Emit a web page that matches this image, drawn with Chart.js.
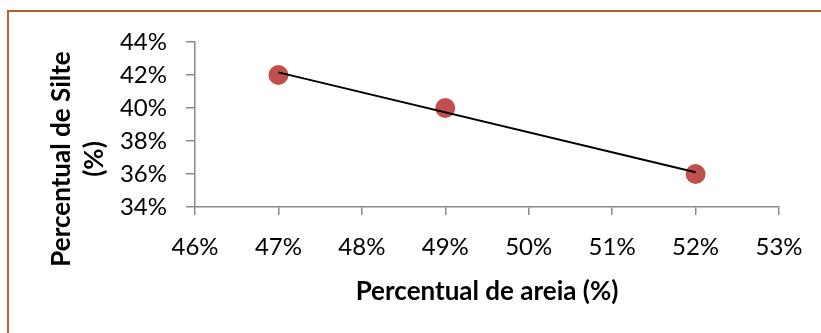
<!DOCTYPE html>
<html>
<head>
<meta charset="utf-8">
<script src="https://cdn.jsdelivr.net/npm/chart.js@4"></script>
<style>
  html, body { margin: 0; padding: 0; background: #ffffff; overflow: hidden; }
  #wrap { position: relative; width: 821px; height: 333px; }
  #frame {
    position: absolute; left: 7px; top: 10px; right: -10px; bottom: -10px;
    border-left: 2px solid #B3622F; border-top: 2px solid #B3622F;
    pointer-events: none;
  }
  canvas { position: absolute; left: 0; top: 0; }
</style>
</head>
<body>
<div id="wrap">
  <div id="frame"></div>
  <canvas id="c" width="821" height="333"></canvas>
</div>
<script>
// Sand vs. silt percentages of the samples
const areia = [47, 49, 52];
const silte = [42, 40, 36];

// Axis ranges and tick steps (percent)
const xTicks = { min: 46, max: 53, step: 1 };
const yTicks = { min: 34, max: 44, step: 2 };

const xTitle = 'Percentual de areia (%)';
const yTitle = ['Percentual de Silte', '(%)'];

// Least-squares linear trend through the samples
function linearFit(xs, ys) {
  const n = xs.length;
  const mx = xs.reduce((a, b) => a + b, 0) / n;
  const my = ys.reduce((a, b) => a + b, 0) / n;
  let sxy = 0, sxx = 0;
  for (let i = 0; i < n; i++) {
    sxy += (xs[i] - mx) * (ys[i] - my);
    sxx += (xs[i] - mx) * (xs[i] - mx);
  }
  const m = sxy / sxx;
  return x => my + m * (x - mx);
}
const fit = linearFit(areia, silte);
const xFirst = Math.min(...areia), xLast = Math.max(...areia);
const trend = [{ x: xFirst, y: fit(xFirst) }, { x: xLast, y: fit(xLast) }];

const points = areia.map((x, i) => ({ x, y: silte[i] }));

const axisGrey = '#8A8A8A';
const tickFont = { family: 'Lato', size: 24 };

// Rotated two-line title for the vertical axis
const yTitlePlugin = {
  id: 'yTitle',
  afterDraw(chart) {
    const ctx = chart.ctx;
    ctx.save();
    ctx.fillStyle = '#000000';
    ctx.font = 'bold 26px Lato';
    ctx.textAlign = 'center';
    ctx.textBaseline = 'middle';
    const cx = 62, cy = 159, gap = 33;
    yTitle.forEach((line, i) => {
      ctx.save();
      ctx.translate(cx + i * gap, cy);
      ctx.rotate(-Math.PI / 2);
      ctx.fillText(line, 0, 0);
      ctx.restore();
    });
    ctx.restore();
  }
};

new Chart(document.getElementById('c'), {
  type: 'scatter',
  data: {
    datasets: [
      {
        type: 'line',
        data: trend,
        borderColor: '#000000',
        borderWidth: 2,
        pointRadius: 0,
        fill: false,
        order: 0
      },
      {
        data: points,
        backgroundColor: '#C0504D',
        borderColor: '#C0504D',
        borderWidth: 0,
        pointRadius: 10,
        pointHoverRadius: 10,
        order: 1
      }
    ]
  },
  options: {
    responsive: false,
    animation: false,
    events: [],
    layout: { padding: { left: 0, right: 42, top: 42, bottom: 0 } },
    plugins: { legend: { display: false }, tooltip: { enabled: false } },
    scales: {
      x: {
        type: 'linear',
        min: xTicks.min, max: xTicks.max,
        afterFit(scale) { scale.height = 126; },
        border: { display: true, color: axisGrey, width: 1.5 },
        grid: { drawOnChartArea: false, drawTicks: true, tickLength: 8, color: axisGrey, lineWidth: 1.5 },
        ticks: {
          stepSize: xTicks.step, padding: 18, color: '#000000', font: tickFont,
          maxRotation: 0,
          callback: v => v + '%'
        },
        title: {
          display: true, text: xTitle, color: '#000000',
          font: { family: 'Lato', size: 26, weight: 'bold', lineHeight: 1.2 },
          padding: { top: 0, bottom: 26 }
        }
      },
      y: {
        type: 'linear',
        min: yTicks.min, max: yTicks.max,
        afterFit(scale) { scale.width = 195; },
        border: { display: true, color: axisGrey, width: 1.5 },
        grid: { drawOnChartArea: false, drawTicks: true, tickLength: 9, color: axisGrey, lineWidth: 1.5 },
        ticks: {
          stepSize: yTicks.step, padding: 19, color: '#000000', font: tickFont,
          callback: v => v + '%'
        }
      }
    }
  },
  plugins: [yTitlePlugin]
});
</script>
</body>
</html>
